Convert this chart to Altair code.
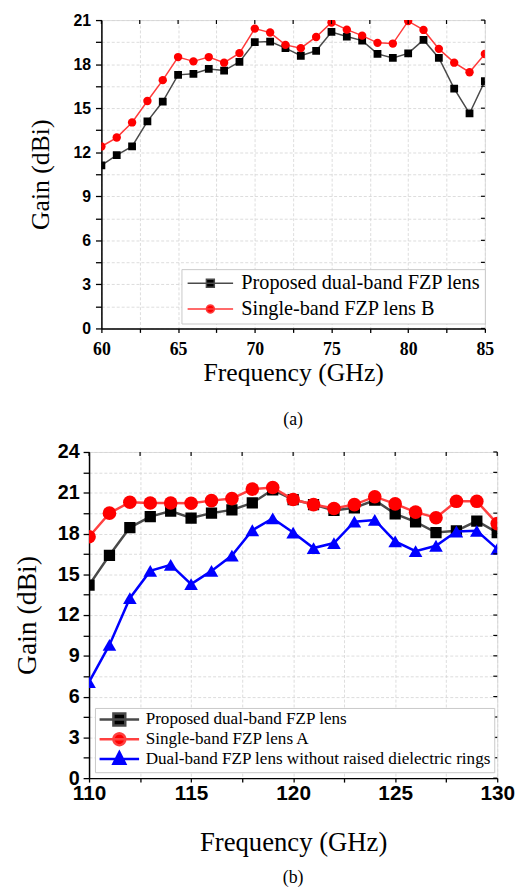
import math
import altair as alt
import pandas as pd

# ---------------- panel (a) data ----------------
freq_a = list(range(60, 86))
proposed_a = [11.1, 11.8, 12.4, 14.1, 15.45, 17.27, 17.34, 17.67, 17.56, 18.15,
              19.5, 19.54, 19.09, 18.57, 18.91, 20.19, 19.88, 19.6, 18.7, 18.42,
              18.73, 19.65, 18.42, 16.33, 14.64, 16.84]
single_lens_b = [12.39, 13.0, 14.03, 15.49, 16.91, 18.48, 18.19, 18.48, 18.1, 18.75,
                 20.42, 20.15, 19.31, 19.09, 19.85, 20.84, 20.35, 19.94, 19.45, 19.4,
                 20.93, 20.33, 19.04, 18.1, 17.45, 18.69]
names_a = ["Proposed dual-band FZP lens", "Single-band FZP lens B"]

# ---------------- panel (b) data ----------------
freq_b = list(range(110, 131))
proposed_b = [14.2, 16.4, 18.44, 19.24, 19.65, 19.14, 19.5, 19.74, 20.25, 21.22,
              20.5, 20.13, 19.7, 19.89, 20.45, 19.45, 18.85, 18.07, 18.2, 18.92, 18.07]
single_lens_a = [17.76, 19.5, 20.3, 20.25, 20.25, 20.23, 20.42, 20.57, 21.27, 21.39,
                 20.5, 20.13, 19.84, 20.13, 20.71, 20.18, 19.57, 19.16, 20.37, 20.37, 18.73]
no_rings = [7.07, 9.8, 13.24, 15.25, 15.7, 14.28, 15.25, 16.38, 18.24, 19.11,
            18.07, 16.93, 17.3, 18.87, 19.0, 17.42, 16.7, 17.1, 18.15, 18.2, 16.87]
names_b = ["Proposed dual-band FZP lens", "Single-band FZP lens A",
           "Dual-band FZP lens without raised dielectric rings"]

# ---------------- ticks ----------------
xa_ticks = [60, 62.5, 65, 67.5, 70, 72.5, 75, 77.5, 80, 82.5, 85]
ya_ticks = [0, 1.5, 3, 4.5, 6, 7.5, 9, 10.5, 12, 13.5, 15, 16.5, 18, 19.5, 21]
xb_ticks = [110, 112.5, 115, 117.5, 120, 122.5, 125, 127.5, 130]
yb_ticks = [0, 1.5, 3, 4.5, 6, 7.5, 9, 10.5, 12, 13.5, 15, 16.5, 18, 19.5, 21, 22.5, 24]

df_a = pd.DataFrame({
    "freq": freq_a + freq_a,
    "gain": proposed_a + single_lens_b,
    "series": [names_a[0]] * len(freq_a) + [names_a[1]] * len(freq_a),
})
df_b = pd.DataFrame({
    "freq": freq_b * 3,
    "gain": proposed_b + single_lens_a + no_rings,
    "series": [names_b[0]] * len(freq_b) + [names_b[1]] * len(freq_b) + [names_b[2]] * len(freq_b),
})

SERIF = "Liberation Serif"
SANS = "Liberation Sans"


def legend_paths(unit, line_len, marker_half, kinds):
    """Legend glyphs: a horizontal line with the marker in its middle (unit = px per path unit)."""
    L = line_len / unit
    c = -1 + L / 2
    h = marker_half / unit
    out = []
    for k in kinds:
        line = f"M-1,0H{-1 + L:.3f}"
        if k == "square":
            m = f"M{c - h:.3f},{-h:.3f}H{c + h:.3f}V{h:.3f}H{c - h:.3f}Z"
        elif k == "circle":
            pts = [(c + h * math.cos(2 * math.pi * j / 20), h * math.sin(2 * math.pi * j / 20))
                   for j in range(20)]
            m = "M" + "L".join(f"{px:.3f},{py:.3f}" for px, py in pts) + "Z"
        else:
            m = f"M{c:.3f},{-1.15 * h:.3f}L{c + h:.3f},{0.8 * h:.3f}L{c - h:.3f},{0.8 * h:.3f}Z"
        out.append(line + m)
    return out


def panel(df, names, xdom, ydom, xt, yt, W, H, st):
    xscale = alt.Scale(domain=xdom, nice=False, zero=False)
    yscale = alt.Scale(domain=ydom, nice=False, zero=False)
    grid = dict(grid=True, gridColor="#d4d4d4", gridDash=[3, 2], gridWidth=0.8)
    xaxis = alt.Axis(
        values=xt, labelExpr=f"datum.value % {st['xmaj']} === 0 ? datum.label : ''",
        title="Frequency (GHz)", titleFont=SERIF, titleFontSize=st["xtitle_fs"],
        titleFontWeight="normal", titleColor="black", titlePadding=st["xtitle_pad"],
        labelFont=st["xlabel_font"], labelFontSize=st["xlabel_fs"], labelFontWeight="bold",
        labelColor="black", labelPadding=st["xlabel_pad"], labelFlush=False, labelOverlap=False,
        tickSize=st["xtick"], tickColor="black", tickWidth=1.3,
        domainColor="black", domainWidth=1.5, **grid)
    yaxis = alt.Axis(
        values=yt, labelExpr=f"datum.value % {st['ymaj']} === 0 ? datum.label : ''",
        title="Gain (dBi)", titleFont=SERIF, titleFontSize=st["ytitle_fs"],
        titleFontWeight="normal", titleColor="black", titlePadding=st["ytitle_pad"],
        labelFont=SANS, labelFontSize=st["ylabel_fs"], labelFontWeight="bold",
        labelColor="black", labelPadding=st["ylabel_pad"], labelFlush=False, labelOverlap=False,
        tickSize=st["ytick"], tickColor="black", tickWidth=1.3,
        domainColor="black", domainWidth=1.5, **grid)

    X = alt.X("freq:Q", scale=xscale, axis=xaxis)
    Y = alt.Y("gain:Q", scale=yscale, axis=yaxis)
    base = alt.Chart(df)

    layers = []
    for i, name in enumerate(names):
        sub = base.transform_filter(alt.datum.series == name)
        layers.append(sub.mark_line(color=st["lines"][i], strokeWidth=st["lw"], clip=True)
                      .encode(x=X, y=Y))
        layers.append(sub.mark_point(shape=st["shapes"][i], filled=True, size=st["msize"][i],
                                     color=st["fills"][i], opacity=1, clip=True)
                      .encode(x=X, y=Y))

    # mirror ticks on top and right edges (pointing inward)
    tx = alt.Chart(pd.DataFrame({"freq": xt})).mark_rule(color="black", strokeWidth=1.2).encode(
        x=X, y=alt.value(0), y2=alt.value(4))
    ty = alt.Chart(pd.DataFrame({"gain": yt})).mark_rule(color="black", strokeWidth=1.2).encode(
        y=Y, x=alt.value(W - 4), x2=alt.value(W))
    layers += [tx, ty]

    legend = alt.Legend(
        orient="none", legendX=st["legx"], legendY=st["legy"], title=None,
        direction="vertical", labelFont=SERIF, labelFontSize=st["leg_fs"],
        labelColor="black", labelLimit=600, labelOffset=st["leg_off"],
        symbolSize=st["leg_unit"] ** 2 * 4, symbolStrokeWidth=st["lw"], symbolOpacity=1,
        padding=st["leg_pad"], rowPadding=st["leg_row"], strokeColor="#c8c8c8",
        fillColor="white", cornerRadius=0)
    leg = base.mark_point(filled=True, opacity=0).encode(
        x=X, y=Y,
        color=alt.Color("series:N", scale=alt.Scale(domain=names, range=st["fills"]), legend=legend),
        stroke=alt.Stroke("series:N", scale=alt.Scale(domain=names, range=st["lines"]), legend=legend),
        shape=alt.Shape("series:N", scale=alt.Scale(domain=names, range=st["paths"]), legend=legend),
    )
    layers.append(leg)

    return alt.layer(*layers).properties(
        width=W, height=H,
        title=alt.Title(st["caption"], orient="bottom", font=SERIF, fontSize=18,
                        fontWeight="normal", color="black", offset=st["cap_off"], anchor="middle"),
    )


unit_a = 8.0
unit_b = 7.0
style_a = dict(
    xmaj=5, ymaj=3, xtitle_fs=26, xtitle_pad=2, xlabel_font=SERIF, xlabel_fs=18, xlabel_pad=8,
    xtick=4, ytitle_fs=26, ytitle_pad=20, ylabel_fs=16, ylabel_pad=5, ytick=6,
    lines=["#4a4a4a", "#ff3b3b"], fills=["black", "#ff0000"], shapes=["square", "circle"],
    msize=[62, 72], lw=1.5,
    paths=legend_paths(unit_a, 46, 4.0, ["square", "circle"]),
    leg_unit=unit_a, legx=81, legy=252, leg_fs=20.5, leg_off=46 - 2 * unit_a + 6,
    leg_pad=4, leg_row=5, caption="(a)", cap_off=26,
)
style_b = dict(
    xmaj=5, ymaj=3, xtitle_fs=27, xtitle_pad=26, xlabel_font=SANS, xlabel_fs=21, xlabel_pad=1,
    xtick=4, ytitle_fs=28, ytitle_pad=16, ylabel_fs=20, ylabel_pad=4, ytick=6,
    lines=["#4a4a4a", "#ff4040", "#0000ff"], fills=["black", "#ff0000", "#0000ff"],
    shapes=["square", "circle", "triangle-up"], msize=[130, 190, 190], lw=2.5,
    paths=legend_paths(unit_b, 40, 6.0, ["square", "circle", "triangle"]),
    leg_unit=unit_b, legx=6, legy=259, leg_fs=17.3, leg_off=40 - 2 * unit_b + 5,
    leg_pad=3, leg_row=-4.3, caption="(b)", cap_off=14,
)

chart_a = panel(df_a, names_a, [60, 85], [0, 21], xa_ticks, ya_ticks, 388, 312, style_a)
chart_b = panel(df_b, names_b, [110, 130], [0, 24], xb_ticks, yb_ticks, 413, 330, style_b)

chart = alt.vconcat(chart_a, chart_b, spacing=125, bounds="flush", center=True).resolve_scale(
    color="independent", stroke="independent", shape="independent"
).properties(
    padding={"left": 5, "top": -2, "right": 0, "bottom": 0}
).configure_view(stroke="black", strokeWidth=1.5).configure(background="white")

chart.save("out.html", embed_options={"renderer": "svg", "actions": False})
